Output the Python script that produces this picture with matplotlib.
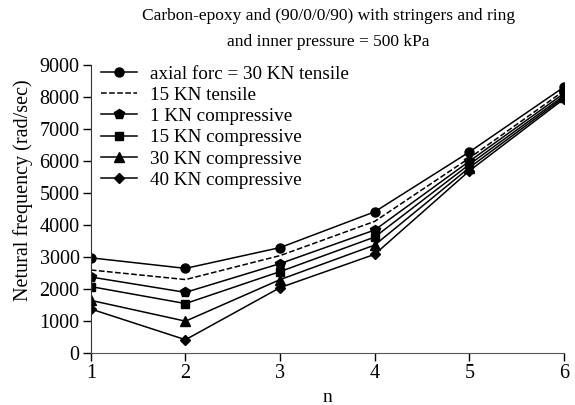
import matplotlib.pyplot as plt

plt.rcParams['font.family'] = ['Liberation Serif', 'DejaVu Serif']

n = [1, 2, 3, 4, 5, 6]
tens_30 = [2980, 2650, 3300, 4420, 6290, 8320]
tens_15 = [2600, 2300, 3050, 4120, 6100, 8200]
comp_1 = [2380, 1900, 2800, 3850, 6000, 8120]
comp_15 = [2080, 1550, 2550, 3630, 5900, 8050]
comp_30 = [1650, 1000, 2300, 3380, 5800, 8000]
comp_40 = [1380, 420, 2050, 3090, 5700, 7950]

labels = ["axial forc = 30 KN tensile", "15 KN tensile", "1 KN compressive",
          "15 KN compressive", "30 KN compressive", "40 KN compressive"]

fig = plt.figure(figsize=(5.75, 4.05), dpi=100)
ax = fig.add_axes([0.158, 0.128, 0.823, 0.711])

ax.plot(n, tens_30, 'k-', marker='o', ms=6.5, lw=1.1, label=labels[0])
ax.plot(n, tens_15, 'k--', lw=1.1, label=labels[1])
ax.plot(n, comp_1, 'k-', marker='p', ms=7.5, lw=1.1, label=labels[2])
ax.plot(n, comp_15, 'k-', marker='s', ms=6, lw=1.1, label=labels[3])
ax.plot(n, comp_30, 'k-', marker='^', ms=7, lw=1.1, label=labels[4])
ax.plot(n, comp_40, 'k-', marker='D', ms=5.5, lw=1.1, label=labels[5])

ax.set_xlim(1, 6)
ax.set_ylim(0, 9000)
ax.set_xticks(n)
ax.set_yticks(range(0, 9001, 1000))
ax.spines['top'].set_visible(False)
ax.spines['right'].set_visible(False)
ax.spines['left'].set_color('#333333')
ax.spines['bottom'].set_color('#555555')
ax.tick_params(labelsize=14.5, length=6, width=1, pad=2)
ax.set_xlabel("n", fontsize=14, labelpad=4)
ax.set_ylabel("Netural frequency (rad/sec)", fontsize=14.5)
ax.yaxis.set_label_coords(-0.122, 0.566)

fig.text(0.571, 1 - 20 / 405, "Carbon-epoxy and (90/0/0/90) with stringers and ring",
         ha='center', va='baseline', fontsize=12.5)
fig.text(0.571, 1 - 46 / 405, "and inner pressure = 500 kPa",
         ha='center', va='baseline', fontsize=12.5)

ax.legend(loc='upper left', bbox_to_anchor=(0.022, 1.0), frameon=False, fontsize=13.8,
          handlelength=1.85, labelspacing=0.2, borderaxespad=0, borderpad=0,
          handletextpad=0.7)

fig.savefig("out.png", dpi=100)
